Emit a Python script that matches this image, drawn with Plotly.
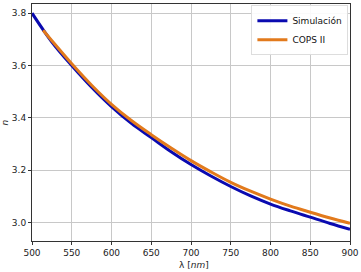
import plotly.graph_objects as go

sim_x = [500, 525, 550, 575, 600, 625, 650, 675, 700, 725, 750, 775, 800, 825, 850, 875, 900]
sim_y = [3.80, 3.69, 3.60, 3.517, 3.443, 3.379, 3.325, 3.271, 3.222, 3.178, 3.138, 3.102,
         3.071, 3.045, 3.021, 2.997, 2.975]
cops_x = [514, 525, 550, 575, 600, 625, 650, 675, 700, 725, 750, 775, 800, 825, 850, 875, 900]
cops_y = [3.735, 3.695, 3.607, 3.525, 3.452, 3.39, 3.336, 3.285, 3.237, 3.194, 3.154, 3.12,
          3.09, 3.063, 3.04, 3.018, 2.998]

x_ticks = [500, 550, 600, 650, 700, 750, 800, 850, 900]
y_ticks = [3.0, 3.2, 3.4, 3.6, 3.8]

fig = go.Figure()
fig.add_trace(go.Scatter(x=sim_x, y=sim_y, mode="lines", name="Simulación",
                         line=dict(color="#0a0ab0", width=3, shape="spline")))
fig.add_trace(go.Scatter(x=cops_x, y=cops_y, mode="lines", name="COPS II",
                         line=dict(color="#e27a1c", width=3, shape="spline")))

axis_common = dict(showgrid=True, gridcolor="#c8c8c8", gridwidth=1,
                   showline=True, linecolor="#333333", linewidth=1, mirror=True,
                   ticks="outside", ticklen=3, tickcolor="#333333",
                   tickfont=dict(family="DejaVu Sans", size=9, color="#222222"),
                   zeroline=False, automargin=False)

title_font = dict(family="DejaVu Sans", size=9, color="#222222")

fig.update_layout(
    width=361, height=272,
    margin=dict(l=32, r=11, t=4, b=31),
    paper_bgcolor="white", plot_bgcolor="white",
    xaxis=dict(range=[500, 900], tickvals=x_ticks, **axis_common),
    yaxis=dict(range=[2.93, 3.835], tickvals=y_ticks, tickformat=".1f", **axis_common),
    legend=dict(x=0.995, y=0.995, xanchor="right", yanchor="top",
                bgcolor="rgba(255,255,255,0.9)", bordercolor="#dddddd", borderwidth=1,
                font=dict(family="DejaVu Sans", size=9, color="#111111"),
                tracegroupgap=0, itemwidth=30),
    showlegend=True,
    annotations=[
        dict(text="λ [<i>nm</i>]", xref="paper", yref="paper", x=0.51, y=-0.1,
             xanchor="center", yanchor="middle", showarrow=False, font=title_font),
        dict(text="<i>n</i>", xref="paper", yref="paper", x=-0.085, y=0.5,
             xanchor="center", yanchor="middle", showarrow=False, textangle=-90, font=title_font),
    ],
)

fig.write_html("out.html", config={"displayModeBar": False},
               post_script="document.body.style.margin='0';document.body.style.overflow='hidden';")
